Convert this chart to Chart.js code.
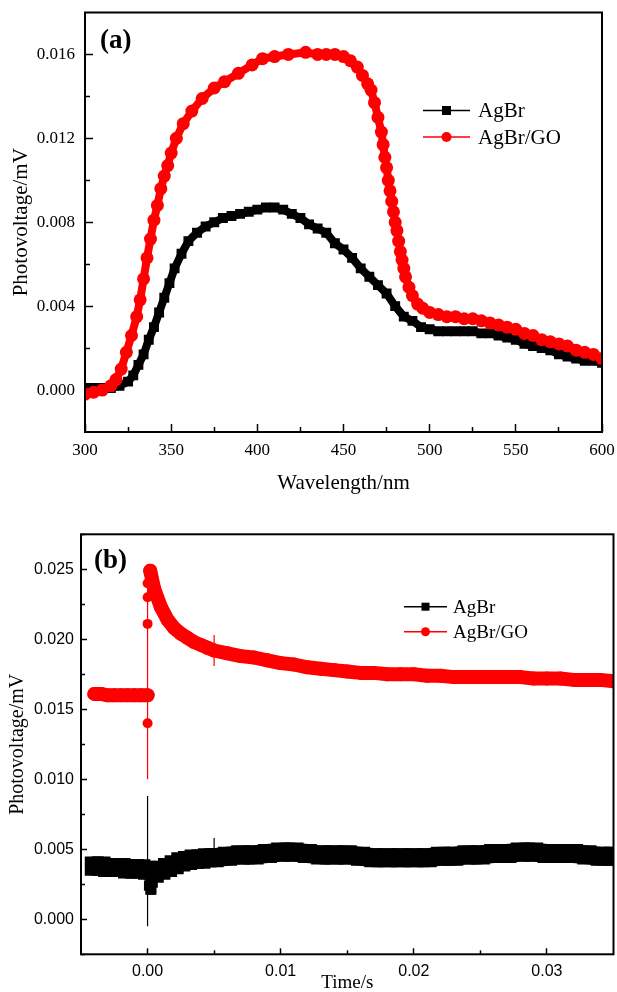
<!DOCTYPE html>
<html>
<head>
<meta charset="utf-8">
<title>AgBr / AgBr-GO photovoltage</title>
<script src="https://cdn.jsdelivr.net/npm/chart.js"></script>
<style>
  html, body { margin: 0; padding: 0; background: #fff; }
  #wrap { position: relative; width: 617px; height: 992px; overflow: hidden; }
  #chart-a { position: absolute; left: 0; top: 0; }
  #chart-b { position: absolute; left: 0; top: 500px; }
</style>
</head>
<body>
<div id="wrap">
  <canvas id="chart-a" width="617" height="500"></canvas>
  <canvas id="chart-b" width="617" height="492"></canvas>
</div>
<script>
// ---- panel (a): surface photovoltage spectra ----
const seriesNames = ["AgBr", "AgBr/GO"];

const waveAgBr = [300, 305, 310, 315, 320, 325, 328, 331, 334, 337, 340, 343, 346, 349, 352, 356, 360,
  365, 370, 375, 380, 385, 390, 395, 400, 405, 410, 415, 420, 425, 430, 435, 440, 445, 450, 455, 460,
  465, 470, 475, 480, 485, 490, 495, 500, 505, 510, 515, 520, 525, 530, 535, 540, 545, 550, 555, 560,
  565, 570, 575, 580, 585, 590, 595, 600];
const pvAgBr = [0.0001, 0.0001, 0.0001, 0.0001, 0.0002, 0.0004, 0.0007, 0.0012, 0.0017, 0.0024, 0.0030, 0.0037, 0.0044, 0.0051, 0.0058, 0.0065, 0.0071,
  0.0075, 0.0078, 0.0080, 0.0082, 0.0083, 0.0084, 0.0085, 0.0086, 0.0087, 0.0087, 0.0086, 0.0084, 0.0082, 0.0079, 0.0077, 0.0075, 0.0070, 0.0067, 0.0063, 0.0058,
  0.0054, 0.0050, 0.0046, 0.0040, 0.0035, 0.0033, 0.0030, 0.0029, 0.0028, 0.0028, 0.0028, 0.0028, 0.0028, 0.0027, 0.0027, 0.0026, 0.0025, 0.0024, 0.0022, 0.0021,
  0.0020, 0.0019, 0.0017, 0.0016, 0.0015, 0.0014, 0.0014, 0.0013];

const waveGO = [300, 305, 310, 315, 318, 321, 324, 327, 330, 332, 334, 336, 338, 340, 342, 344, 346, 348, 350,
  353, 357, 362, 368, 375, 381, 389, 397, 403, 410, 418, 428, 435, 440, 445, 450, 454, 458, 461, 464, 466, 468, 470,
  472, 473, 474, 475, 476, 477, 478, 479, 480, 481, 482, 483, 484, 485, 486, 488, 490, 493, 496, 500,
  505, 510, 515, 520, 525, 530, 535, 540, 545, 550, 555, 560, 565, 570, 575, 580, 585, 590, 595, 600];
const pvGO = [-0.0002, -0.0001, 0.0000, 0.0002, 0.0005, 0.0010, 0.0018, 0.0026, 0.0035, 0.0043, 0.0053, 0.0063, 0.0072, 0.0081, 0.0088, 0.0096, 0.0102, 0.0107, 0.0113,
  0.0120, 0.0127, 0.0133, 0.0139, 0.0144, 0.0147, 0.0151, 0.0155, 0.0158, 0.0159, 0.0160, 0.0161, 0.0160, 0.0160, 0.0160, 0.0159, 0.0157, 0.0154, 0.0150, 0.0146, 0.0143, 0.0137, 0.0130,
  0.0123, 0.0117, 0.0111, 0.0106, 0.0100, 0.0095, 0.0090, 0.0085, 0.0080, 0.0076, 0.0071, 0.0066, 0.0062, 0.0058, 0.0054, 0.0049, 0.0045, 0.0041, 0.0039, 0.0037,
  0.0036, 0.0035, 0.0035, 0.0034, 0.0034, 0.0033, 0.0032, 0.0031, 0.0030, 0.0029, 0.0027, 0.0026, 0.0024, 0.0023, 0.0022, 0.0021, 0.0019, 0.0018, 0.0017, 0.0015];

const waveTicks = [300, 350, 400, 450, 500, 550, 600];
const waveMinorTicks = [325, 375, 425, 475, 525, 575];
const pvTicksA = [0.000, 0.004, 0.008, 0.012, 0.016];
const pvMinorTicksA = [0.002, 0.006, 0.010, 0.014];

// ---- panel (b): transient photovoltage ----
const timeAgBr = [-0.004, -0.0035, -0.003, -0.0025, -0.002, -0.0015, -0.001, -0.0005, 0, 0.0005, 0.001, 0.0015, 0.002, 0.0025, 0.003, 0.0035, 0.004, 0.0045, 0.005,
  0.006, 0.007, 0.008, 0.009, 0.010, 0.011, 0.012, 0.013, 0.014, 0.015, 0.016, 0.017, 0.018, 0.019, 0.020,
  0.021, 0.022, 0.023, 0.024, 0.025, 0.026, 0.027, 0.028, 0.029, 0.030, 0.031, 0.032, 0.033, 0.034, 0.035];
const tpvAgBr = [0.0038, 0.0038, 0.0037, 0.0037, 0.0037, 0.0036, 0.0036, 0.0036, 0.0035, 0.0033, 0.0035, 0.0037, 0.0039, 0.0041, 0.0042, 0.0043, 0.0043, 0.0044, 0.0044,
  0.0045, 0.0046, 0.0046, 0.0047, 0.0048, 0.0048, 0.0047, 0.0046, 0.0046, 0.0046, 0.0045, 0.0044, 0.0044, 0.0044, 0.0044,
  0.0044, 0.0045, 0.0045, 0.0046, 0.0046, 0.0047, 0.0047, 0.0048, 0.0048, 0.0047, 0.0047, 0.0047, 0.0046, 0.0045, 0.0045];
const timeAgBrDip = [0.0001, 0.0002, 0.0003, 0.0004];
const tpvAgBrDip = [0.0024, 0.0021, 0.0021, 0.0026];

const timeGOPre = [-0.004, -0.0035, -0.003, -0.0025, -0.002, -0.0015, -0.001, -0.0005, 0];
const tpvGOPre = [0.0161, 0.0161, 0.0160, 0.0160, 0.0160, 0.0160, 0.0160, 0.0160, 0.0160];
const timeGOPost = [0.0002, 0.0005, 0.001, 0.0015, 0.002, 0.0025, 0.003, 0.0035, 0.004, 0.0045, 0.005,
  0.006, 0.007, 0.008, 0.009, 0.010, 0.011, 0.012, 0.013, 0.014, 0.015, 0.016, 0.017, 0.018, 0.019, 0.020,
  0.021, 0.022, 0.023, 0.024, 0.025, 0.026, 0.027, 0.028, 0.029, 0.030, 0.031, 0.032, 0.033, 0.034, 0.035];
const tpvGOPost = [0.0249, 0.0236, 0.0223, 0.0214, 0.0208, 0.0204, 0.0201, 0.0198, 0.0196, 0.0194, 0.0192,
  0.0190, 0.0188, 0.0187, 0.0185, 0.0183, 0.0182, 0.0180, 0.0179, 0.0178, 0.0177, 0.0176, 0.0176, 0.0175, 0.0175, 0.0175,
  0.0174, 0.0174, 0.0173, 0.0173, 0.0173, 0.0173, 0.0173, 0.0173, 0.0172, 0.0172, 0.0172, 0.0171, 0.0171, 0.0171, 0.0170];
// single readings at the switch-on instant
const timeGOSpike = [0, 0, 0, 0];
const tpvGOSpike = [0.0140, 0.0211, 0.0230, 0.0240];

// thin vertical glitches (time, low, high)
const glitchTime = [0, 0.005];
const glitchGOLow = [0.0100, 0.0181];
const glitchGOHigh = [0.0250, 0.0203];
const glitchAgBrLow = [-0.0005, 0.0044];
const glitchAgBrHigh = [0.0088, 0.0058];

const timeTicks = [0.00, 0.01, 0.02, 0.03];
const timeMinorTicks = [0.005, 0.015, 0.025];
const tpvTicks = [0.000, 0.005, 0.010, 0.015, 0.020, 0.025];
const tpvMinorTicks = [-0.0025, 0.0025, 0.0075, 0.0125, 0.0175, 0.0225, 0.0275];

const serif = "'Liberation Serif', 'Times New Roman', serif";
const sans = "'Liberation Sans', Arial, sans-serif";
const RED = "#ff0000";
const BLACK = "#000000";

function toPoints(xs, ys) {
    return xs.map((x, i) => ({ x: x, y: ys[i] }));
}

// fixed axis box size, and no extra label padding pushed into the layout
function fixSize(s, horizontal, size) {
    if (horizontal) s.height = size; else s.width = size;
    s.paddingLeft = 0;
    s.paddingRight = 0;
    s.paddingTop = 0;
    s.paddingBottom = 0;
}

function majorAxis(o) {
    const horizontal = o.position === "bottom";
    return {
        type: "linear", position: o.position, min: o.min, max: o.max, weight: 1,
        afterBuildTicks: (s) => { s.ticks = o.ticks.map(v => ({ value: v })); },
        afterFit: (s) => fixSize(s, horizontal, o.size),
        border: { display: false },
        grid: { drawOnChartArea: false, tickLength: -o.tickLen, tickColor: BLACK, tickWidth: 1.5 },
        ticks: {
            autoSkip: false, maxRotation: 0, minRotation: 0,
            padding: o.pad + o.tickLen, color: BLACK, font: o.font,
            callback: (v) => v.toFixed(o.digits)
        },
        title: { display: true, text: o.title, color: BLACK, font: o.titleFont, padding: o.titlePad }
    };
}

function minorAxis(o) {
    const horizontal = o.position === "bottom";
    return {
        type: "linear", position: o.position, min: o.min, max: o.max, weight: 0,
        afterBuildTicks: (s) => { s.ticks = o.ticks.map(v => ({ value: v })); },
        afterFit: (s) => fixSize(s, horizontal, 0),
        border: { display: false },
        grid: { drawOnChartArea: false, tickLength: -o.tickLen, tickColor: BLACK, tickWidth: 1.5 },
        ticks: { display: false }
    };
}

// frame, panel letter and legend drawn on top of the chart
function decorPlugin(d) {
    return {
        id: "decor",
        afterDatasetsDraw(chart) {
            const a = chart.chartArea;
            const ctx = chart.ctx;
            ctx.save();
            ctx.strokeStyle = BLACK;
            ctx.lineWidth = 2;
            ctx.strokeRect(a.left, a.top, a.right - a.left, a.bottom - a.top);
            ctx.restore();
        },
        afterDraw(chart) {
            const ctx = chart.ctx;
            ctx.save();
            ctx.fillStyle = BLACK;
            ctx.font = "bold 27px " + serif;
            ctx.textAlign = "left";
            ctx.textBaseline = "alphabetic";
            ctx.fillText(d.letter, d.letterX, d.letterY);

            const styles = [["rect", BLACK], ["circle", RED]];
            for (let i = 0; i < seriesNames.length; i++) {
                const y = d.legendY + i * d.legendGap;
                const xm = (d.lineX0 + d.lineX1) / 2;
                ctx.strokeStyle = styles[i][1];
                ctx.lineWidth = 1.5;
                ctx.beginPath();
                ctx.moveTo(d.lineX0, y);
                ctx.lineTo(d.lineX1, y);
                ctx.stroke();
                ctx.fillStyle = styles[i][1];
                if (styles[i][0] === "rect") {
                    ctx.fillRect(xm - d.mark / 2, y - d.mark / 2, d.mark, d.mark);
                } else {
                    ctx.beginPath();
                    ctx.arc(xm, y, d.mark / 2 + 0.5, 0, Math.PI * 2);
                    ctx.fill();
                }
                ctx.fillStyle = BLACK;
                ctx.font = d.legendFont;
                ctx.fillText(seriesNames[i], d.textX, y + d.baseShift);
            }
            ctx.restore();
        }
    };
}

const baseOptions = {
    responsive: false,
    devicePixelRatio: 1,
    animation: false,
    events: [],
    plugins: { legend: { display: false }, tooltip: { enabled: false } }
};

// ---------- chart (a) ----------
new Chart(document.getElementById("chart-a"), {
    type: "scatter",
    data: {
        datasets: [
            {
                label: seriesNames[1], data: toPoints(waveGO, pvGO), showLine: true, clip: 0,
                borderColor: RED, borderWidth: 8, borderJoinStyle: "round", borderCapStyle: "round",
                pointStyle: "circle", pointRadius: 6.5, pointBackgroundColor: RED, pointBorderWidth: 0
            },
            {
                label: seriesNames[0], data: toPoints(waveAgBr, pvAgBr), showLine: true, clip: 0,
                borderColor: BLACK, borderWidth: 8, borderJoinStyle: "round", borderCapStyle: "round",
                pointStyle: "rect", pointRadius: 7, pointBackgroundColor: BLACK, pointBorderWidth: 0
            }
        ]
    },
    options: Object.assign({}, baseOptions, {
        layout: { autoPadding: false, padding: { left: 0, top: 12.5, right: 15, bottom: 0 } },
        scales: {
            x: majorAxis({
                position: "bottom", min: 300, max: 600, ticks: waveTicks, size: 68, tickLen: 8, pad: 8,
                font: { family: serif, size: 17 }, digits: 0,
                title: "Wavelength/nm", titleFont: { family: serif, size: 21 }, titlePad: { top: 0, bottom: 4 }
            }),
            xMinor: minorAxis({ position: "bottom", min: 300, max: 600, ticks: waveMinorTicks, tickLen: 5 }),
            y: majorAxis({
                position: "left", min: -0.002, max: 0.018, ticks: pvTicksA, size: 85, tickLen: 8, pad: 10,
                font: { family: serif, size: 17 }, digits: 3,
                title: "Photovoltage/mV", titleFont: { family: serif, size: 21 }, titlePad: { top: 8.4, bottom: 0 }
            }),
            yMinor: minorAxis({ position: "left", min: -0.002, max: 0.018, ticks: pvMinorTicksA, tickLen: 5 })
        }
    }),
    plugins: [decorPlugin({
        letter: "(a)", letterX: 100, letterY: 47.5,
        lineX0: 423, lineX1: 470, textX: 478, legendY: 110.5, legendGap: 26.5, baseShift: 6.5,
        mark: 9, legendFont: "21px " + serif
    })]
});

// ---------- chart (b) ----------
const bandGO = { borderColor: RED, borderWidth: 14, borderJoinStyle: "round", borderCapStyle: "round",
    pointStyle: "circle", pointRadius: 7, pointBackgroundColor: RED, pointBorderWidth: 0, showLine: true, clip: 0 };
const bandAgBr = { borderColor: BLACK, borderWidth: 19, borderJoinStyle: "round", borderCapStyle: "round",
    pointStyle: "rect", pointRadius: 13.5, pointBackgroundColor: BLACK, pointBorderWidth: 0, showLine: true, clip: 0 };

const datasetsB = [
    Object.assign({ label: seriesNames[1], data: toPoints(timeGOPost, tpvGOPost) }, bandGO),
    Object.assign({ label: seriesNames[1], data: toPoints(timeGOPre, tpvGOPre) }, bandGO),
    { label: seriesNames[1], data: toPoints(timeGOSpike, tpvGOSpike), showLine: false, clip: 0,
      pointStyle: "circle", pointRadius: 5, pointBackgroundColor: RED, pointBorderWidth: 0 },
    Object.assign({ label: seriesNames[0], data: toPoints(timeAgBr, tpvAgBr) }, bandAgBr),
    { label: seriesNames[0], data: toPoints(timeAgBrDip, tpvAgBrDip), showLine: true, clip: 0,
      borderColor: BLACK, borderWidth: 6, pointStyle: "rect", pointRadius: 7, pointBackgroundColor: BLACK, pointBorderWidth: 0 }
];
for (let i = 0; i < glitchTime.length; i++) {
    datasetsB.push({ label: seriesNames[1], showLine: true, clip: 0, borderColor: RED, borderWidth: 1.2, pointRadius: 0,
        data: [{ x: glitchTime[i], y: glitchGOLow[i] }, { x: glitchTime[i], y: glitchGOHigh[i] }] });
    datasetsB.push({ label: seriesNames[0], showLine: true, clip: 0, borderColor: BLACK, borderWidth: 1.2, pointRadius: 0,
        data: [{ x: glitchTime[i], y: glitchAgBrLow[i] }, { x: glitchTime[i], y: glitchAgBrHigh[i] }] });
}

new Chart(document.getElementById("chart-b"), {
    type: "scatter",
    data: { datasets: datasetsB },
    options: Object.assign({}, baseOptions, {
        layout: { autoPadding: false, padding: { left: 0, top: 34.3, right: 3.5, bottom: 0 } },
        scales: {
            x: majorAxis({
                position: "bottom", min: -0.005, max: 0.035, ticks: timeTicks, size: 37.7, tickLen: 6, pad: 8,
                font: { family: sans, size: 16 }, digits: 2,
                title: "Time/s", titleFont: { family: serif, size: 19 }, titlePad: { top: 0, bottom: -2.4 }
            }),
            xMinor: minorAxis({ position: "bottom", min: -0.005, max: 0.035, ticks: timeMinorTicks, tickLen: 4 }),
            y: majorAxis({
                position: "left", min: -0.0025, max: 0.0275, ticks: tpvTicks, size: 81, tickLen: 6, pad: 7,
                font: { family: sans, size: 16 }, digits: 3,
                title: "Photovoltage/mV", titleFont: { family: serif, size: 20 }, titlePad: { top: 5.7, bottom: 0 }
            }),
            yMinor: minorAxis({ position: "left", min: -0.0025, max: 0.0275, ticks: tpvMinorTicks, tickLen: 4 })
        }
    }),
    plugins: [decorPlugin({
        letter: "(b)", letterX: 94, letterY: 68.3,
        lineX0: 404, lineX1: 447, textX: 453, legendY: 106.7, legendGap: 25, baseShift: 6.5,
        mark: 8, legendFont: "19px " + serif
    })]
});
</script>
</body>
</html>
